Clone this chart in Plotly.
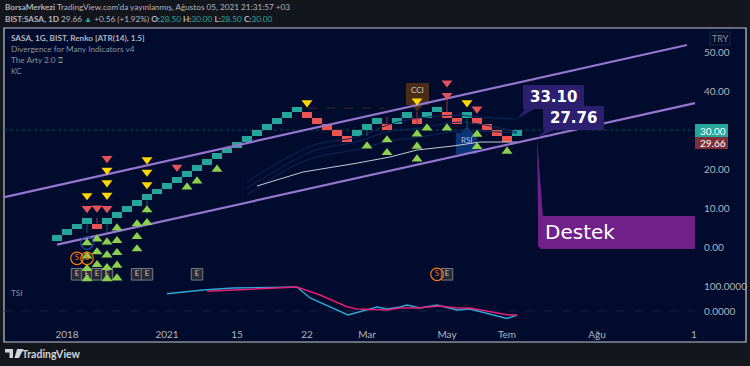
import plotly.graph_objects as go

W, H = 750, 366
opens = [1.5,3,4.5,6,6,6,7.5,9,10.5,12,13.5,15,16.5,18,19.5,21,22.5,24,25.5,27,28.5,30,31.5,33,34.5,34.5,33,31.5,30,28.5,28.5,30,31.5,31.5,31.5,33,33,33,34.5,34.5,33,33,33,31.5,30,28.5,28.5]
closes = [3,4.5,6,7.5,4.5,7.5,9,10.5,12,13.5,15,16.5,18,19.5,21,22.5,24,25.5,27,28.5,30,31.5,33,34.5,36,33,31.5,30,28.5,27,30,31.5,33,30,33,34.5,31.5,34.5,36,33,31.5,34.5,31.5,30,28.5,27,30]
wick_x = [3,5,9,31,41,4,33,36,39]
wick_from = [6,6,12,30,33,6,31.5,31.5,34.5]
wick_to = [3.67,3.85,8.46,28.46,30.8,7.6,33.4,34.6,37.7]

up_x = [3,3,3,3,4,4,4,5,5,5,5,6,6,6,6,6,8,8,8,9,9,13,14,16,31,33,33,36,36,36,37,39,42,42,45]
up_y = [1.03,-2.31,-5.56,-8.2,2.05,-1.28,-4.54,1.28,-2.05,-5.31,-8.2,4.87,1.62,-1.46,-4.69,-7.95,5.9,2.64,-0.51,9.49,6.23,15.38,16.92,19.92,25.9,27.44,24.18,28.97,25.82,22.56,30.51,30.51,28.9,25.72,24.54]
yellow_x = [3,5,5,5,9,9,9,25,36,41]
yellow_y = [13.2,19.7,16.5,13.3,22.4,19.2,16.0,37,37.5,37]
red_x = [3,4,5,5,12,39,39,42]
red_y = [9.9,10,9.9,22.7,20.5,42.1,38.9,35.4]

kc_mid_x = [20,24.6,30,33.3,36,39.6,42.3,46]
kc_mid_y = [15.64,19.23,21.5,23.08,24.87,25.9,26.92,26.92]
kc_x = [19,23.5,26,30,33.3,36.3,40,42.3,46]
kc_a = [16.74,23.6,26.4,28.2,31.5,33.1,33.8,33.3,32.8]
kc_b = [15.1,21.9,25,27,29.7,30.5,32,31.5,29.5]
kc_c = [13.3,20.6,23.1,25,27.2,28.2,29.7,29.7,29.2]

upper_x, upper_y = [-5.25,63], [12.8,51.8]
lower_x, lower_y = [0,63.8], [0.6,36.9]
prior_x, prior_y = [25.1,32.8], [35.6,35.6]

e_x = [2,3,4,5,8,9,14,39]
e_y = [-7]*8
s_x = [2,3,38]
s_y = [-2.9,-2.9,-7]
ring_x, ring_y = [3], [1]

tsi_bx = [11,14.6,17.6,24,25.3,29.1,32,33,34.3,35,36.3,38,40,41.3,45,46]
tsi_b = [69,84,92,96,52,-16,16,8,16,24,12,24,4,8,-30,-16]
tsi_px = [15,24,26.3,29,30,33,34.3,36,38.3,40,41.3,45,46]
tsi_p = [79,96,64,17,8,4,12,12,20,12,12,-15,-16]

price_ticks = [0,10,20,40,50]
tsi_ticks = [0,100]
time_pos = [1,11,18,25,31,39,45,54,63.7]
time_labels = ["2018","2021","15","22","Mar","May","Tem","Ağu","1"]

TEAL, RED = "#26a69a", "#ef5350"
PANE, BG = "#000b2d", "#14161e"
FONT = "Lato"


def X(p): return p / W
def Y(p): return 1 - p / H
def path(pts):
    return "M " + " L ".join(f"{X(a):.5f},{Y(b):.5f}" for a, b in pts) + " Z"
def rect(x0, y0, x1, y1, fill, line=None, lw=0, layer="above"):
    return dict(type="rect", xref="paper", yref="paper", x0=X(x0), x1=X(x1), y0=Y(y0), y1=Y(y1),
                fillcolor=fill, line=dict(color=line or fill, width=lw), layer=layer)
def poly(pts, fill, layer="above"):
    return dict(type="path", xref="paper", yref="paper", path=path(pts), fillcolor=fill,
                line=dict(width=0), layer=layer)
def note(x, y, text, size=9, color="#b2b5be", anchor="left", font=FONT):
    return dict(xref="paper", yref="paper", x=X(x), y=Y(y), text=text, showarrow=False, xanchor=anchor,
                yanchor="middle", font=dict(size=size, color=color, family=font), borderpad=0)


fig = go.Figure()
# KC bands
for ys in (kc_a, kc_b, kc_c):
    fig.add_trace(go.Scatter(x=kc_x, y=ys, mode="lines", line=dict(color="#0c2a5c", width=1, shape="spline"), hoverinfo="skip"))
fig.add_trace(go.Scatter(x=kc_mid_x, y=kc_mid_y, mode="lines", line=dict(color="#c8cad0", width=1), hoverinfo="skip"))
fig.add_trace(go.Scatter(x=prior_x, y=prior_y, mode="lines", line=dict(color="#3a2a20", width=1, dash="dash"), hoverinfo="skip"))
# wicks
for i in range(len(wick_x)):
    c = "#155f60" if i < 5 else "#8a3a45"
    fig.add_trace(go.Scatter(x=[wick_x[i], wick_x[i]], y=[wick_from[i], wick_to[i]], mode="lines",
                             line=dict(color=c, width=1), hoverinfo="skip"))
# bricks
fig.add_trace(go.Bar(x=list(range(len(opens))), base=opens, y=[c - o for o, c in zip(opens, closes)], width=1,
                     marker=dict(color=[TEAL if c > o else RED for o, c in zip(opens, closes)], line=dict(width=0)),
                     hoverinfo="skip"))
# trend lines
for xs, ys in ((upper_x, upper_y), (lower_x, lower_y)):
    fig.add_trace(go.Scatter(x=xs, y=ys, mode="lines", line=dict(color="#9575cd", width=2.2), hoverinfo="skip"))
# event badges
fig.add_trace(go.Scatter(x=e_x, y=e_y, mode="markers+text", text=["E"] * len(e_x), textposition="middle center",
                         textfont=dict(size=8, color="#c0c3cc", family=FONT),
                         marker=dict(symbol="square", size=11.5, color="#252a38", line=dict(color="#787b86", width=1)),
                         hoverinfo="skip"))
# signals
fig.add_trace(go.Scatter(x=up_x, y=up_y, mode="markers", marker=dict(symbol="triangle-up", size=9.5, color="#8bd14f", line=dict(width=0)), hoverinfo="skip"))
fig.add_trace(go.Scatter(x=yellow_x, y=yellow_y, mode="markers", marker=dict(symbol="triangle-down", size=9.5, color="#ffd600", line=dict(width=0)), hoverinfo="skip"))
fig.add_trace(go.Scatter(x=red_x, y=red_y, mode="markers", marker=dict(symbol="triangle-down", size=9.5, color="#e2535a", line=dict(width=0)), hoverinfo="skip"))
fig.add_trace(go.Scatter(x=s_x, y=s_y, mode="markers+text", text=["S"] * len(s_x), textposition="middle center",
                         textfont=dict(size=8, color="#f57c00", family=FONT),
                         marker=dict(symbol="circle-open", size=12.5, color="#f57c00", line=dict(width=1.2, color="#f57c00")), hoverinfo="skip"))
fig.add_trace(go.Scatter(x=ring_x, y=ring_y, mode="markers", marker=dict(symbol="circle-open", size=12.5, color="#1e4fa8", line=dict(width=1.2, color="#1e4fa8")), hoverinfo="skip"))
# TSI
fig.add_trace(go.Scatter(x=tsi_bx, y=tsi_b, yaxis="y2", mode="lines", line=dict(color="#2fa8d8", width=1.4), hoverinfo="skip"))
fig.add_trace(go.Scatter(x=tsi_px, y=tsi_p, yaxis="y2", mode="lines", line=dict(color="#e91e73", width=1.4), hoverinfo="skip"))

shapes = [
    rect(4, 28, 746, 342, PANE, "#c4c7cf", 1.2, "below"),
    dict(type="line", xref="x", yref="y", x0=-5.3, x1=63.8, y0=30, y1=30, line=dict(color="#0c4a55", width=1, dash="dot"), layer="below"),
    dict(type="line", xref="x", yref="y2", x0=-5.3, x1=63.8, y0=0, y1=0, line=dict(color="#1a2340", width=1, dash="dash"), layer="below"),
    # indicator labels beneath the marks
    rect(406, 83, 429, 105, "#4a2c18", layer="below"),
    poly([(412, 105), (423, 105), (417, 112)], "#4a2c18", "below"),
    rect(456, 133, 477, 154, "#0c3478", layer="below"),
    poly([(461, 133), (473, 133), (467, 126)], "#0c3478", "below"),
    # callouts
    poly([(526, 108), (536, 108), (517, 119)], "#2c1f70"),
    rect(523, 85, 584, 109, "#2c1f70"),
    poly([(546, 129), (556, 129), (537, 138)], "#2c1f70"),
    rect(543, 106, 604, 130, "#2c1f70"),
    poly([(537, 138), (543, 217), (538, 217)], "#6f2089"),
    dict(type="path", xref="paper", yref="paper", fillcolor="#6f2089", line=dict(width=0), layer="above",
         path=path([(538, 216), (695, 216), (695, 249), (541, 249), (538, 246)])),
    # price badges
    rect(695, 124, 728, 137, TEAL),
    rect(695, 137, 728, 149, "#7f2f37"),
    rect(710, 32, 730, 45, PANE, "#1e2a40", 1),
    # logo
    poly([(5, 349), (13, 349), (13, 358), (9.5, 358), (9.5, 352.5), (5, 352.5)], "#d1d4dc"),
    poly([(17, 349), (23.5, 349), (19, 358), (14.5, 358)], "#d1d4dc"),
]
annotations = [
    note(4, 7.5, "<b>BorsaMerkezi</b> TradingView.com'da yayınlanmış, Ağustos 05, 2021 21:31:57 +03", 8.2),
    note(4, 18.5, f"<b>BIST:SASA, 1D</b> 29.66 <span style='color:{TEAL}'>▲</span> +0.56 (+1.92%) <b>O:</b><span style='color:{TEAL}'>28.50</span> <b>H:</b><span style='color:{TEAL}'>30.00</span> <b>L:</b><span style='color:{TEAL}'>28.50</span> <b>C:</b><span style='color:{TEAL}'>30.00</span>", 8.2),
    note(10, 38, "<b>SASA, 1G, BIST, Renko [ATR(14), 1.5]</b>", 8.2),
    note(10, 49, "Divergence for Many Indicators v4", 8.2, "#8f929c"),
    note(10, 60, "The Arty 2.0 ⍰", 8.2, "#8f929c"),
    note(10, 71, "KC", 8.2, "#8f929c"),
    note(10, 293, "TSI", 8.2, "#8f929c"),
    note(553.5, 97, "<b>33.10</b>", 15, "#ffffff", "center", "DejaVu Sans"),
    note(573.5, 118, "<b>27.76</b>", 15, "#ffffff", "center", "DejaVu Sans"),
    note(544, 232, "Destek", 20, "#ffffff", "left", "DejaVu Sans"),
    note(417.5, 90, "CCI", 8, "#d8c8b8", "center"),
    note(467, 140, "RSI", 8, "#a8c0e8", "center"),
    note(713, 130.5, "30.00", 10, "#ffffff", "center"),
    note(713, 143, "29.66", 10, "#ffffff", "center"),
    note(720, 38.5, "TRY", 9, "#8f929c", "center"),
    note(21, 354, "<b>TradingView</b>", 10.5, "#d1d4dc"),
]
fig.update_layout(
    width=W, height=H, autosize=False, margin=dict(l=0, r=0, t=0, b=0), showlegend=False,
    paper_bgcolor=BG, plot_bgcolor="rgba(0,0,0,0)", bargap=0, barmode="overlay",
    font=dict(family=FONT, size=10, color="#b2b5be"), shapes=shapes, annotations=annotations,
    xaxis=dict(domain=[X(4), X(746)], range=[-5.3, 68.9], anchor="y2", tickmode="array", tickvals=time_pos,
               ticktext=time_labels, showgrid=False, zeroline=False, showline=False, ticks="outside",
               ticklen=3, tickcolor="rgba(0,0,0,0)", tickfont=dict(size=10, color="#b2b5be")),
    yaxis=dict(domain=[Y(300), Y(29)], range=[-13.59, 55.9], anchor="free", position=X(695), side="right",
               tickmode="array", tickvals=price_ticks, tickformat=".2f", showgrid=False, zeroline=False,
               showline=False, ticks="outside", ticklen=6, tickcolor="rgba(0,0,0,0)",
               tickfont=dict(size=10, color="#b2b5be")),
    yaxis2=dict(domain=[Y(322), Y(275)], range=[-44, 144], anchor="free", position=X(695), side="right",
                tickmode="array", tickvals=tsi_ticks, tickformat=".4f", showgrid=False, zeroline=False,
                showline=False, ticks="outside", ticklen=6, tickcolor="rgba(0,0,0,0)",
                tickfont=dict(size=10, color="#b2b5be")),
)
fig.write_html("out.html", config=dict(displayModeBar=False),
               post_script="document.body.style.margin='0';document.body.style.background='%s';" % BG)
